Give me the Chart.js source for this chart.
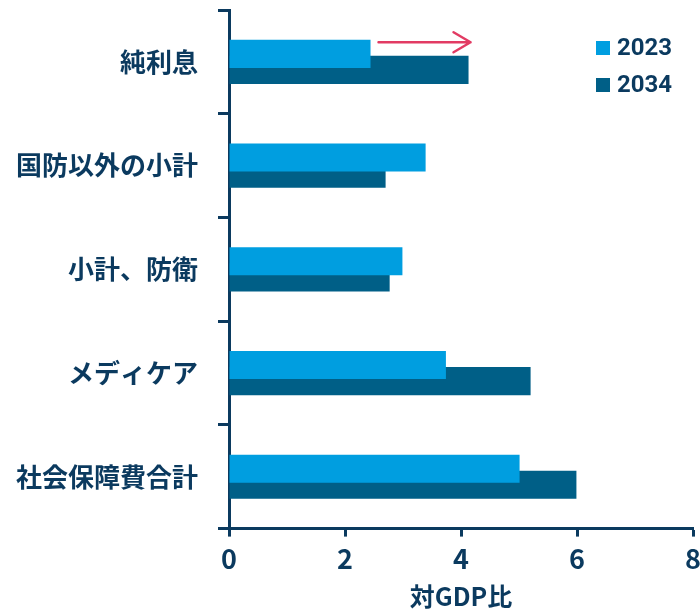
<!DOCTYPE html>
<html lang="ja">
<head>
<meta charset="utf-8">
<title>対GDP比</title>
<script src="https://cdn.jsdelivr.net/npm/chart.js@4.4.1/dist/chart.umd.min.js"></script>
<style>
    html, body { margin: 0; padding: 0; background: #fff; overflow: hidden; }
    #wrap { position: relative; width: 700px; height: 613px; }
</style>
</head>
<body>
<div id="wrap"><canvas id="gdpChart"></canvas></div>
<script>
// Chart data
const categories = ['純利息', '国防以外の小計', '小計、防衛', 'メディケア', '社会保障費合計'];
const values2023 = [2.44, 3.39, 2.99, 3.74, 5.01];
const values2034 = [4.13, 2.70, 2.77, 5.20, 5.99];
const xTicks = [0, 2, 4, 6, 8];

const NAVY = '#0b3a5f';
const LIGHT = '#009ee0';
const DARK = '#005f87';
const ARROW = '#e23b63';
const CJK = '"Noto Sans CJK JP", "Noto Sans", sans-serif';

// Legend drawn inside the plot, top right
const cornerLegend = {
    id: 'cornerLegend',
    afterDraw(chart) {
        const ctx = chart.ctx;
        ctx.save();
        ctx.font = 'bold 24px Roboto, "Liberation Sans", sans-serif';
        ctx.textBaseline = 'middle';
        chart.data.datasets.forEach((ds, i) => {
            const y = 48 + i * 37;
            ctx.fillStyle = ds.backgroundColor;
            ctx.fillRect(596, y - 7, 14, 14);
            ctx.fillStyle = NAVY;
            ctx.fillText(ds.label, 617, y + 1);
        });
        ctx.restore();
    }
};

// Growth arrow above the first category, from the 2023 end to the 2034 end
const growthArrow = {
    id: 'growthArrow',
    afterDatasetsDraw(chart) {
        const x = chart.scales.x;
        const bar = chart.getDatasetMeta(0).data[0];
        if (!bar) return;
        const y = bar.y - bar.height / 2 + 2.5;
        const x0 = x.getPixelForValue(values2023[0]) + 8;
        const x1 = x.getPixelForValue(values2034[0]) + 2;
        const ctx = chart.ctx;
        ctx.save();
        ctx.strokeStyle = ARROW;
        ctx.lineWidth = 2.5;
        ctx.lineCap = 'round';
        ctx.lineJoin = 'round';
        ctx.beginPath();
        ctx.moveTo(x0, y);
        ctx.lineTo(x1, y);
        ctx.moveTo(x1 - 17, y - 10);
        ctx.lineTo(x1, y);
        ctx.lineTo(x1 - 17, y + 10);
        ctx.stroke();
        ctx.restore();
    }
};

new Chart(document.getElementById('gdpChart'), {
    type: 'bar',
    data: {
        labels: categories,
        datasets: [{
            label: '2023',
            data: values2023,
            backgroundColor: LIGHT,
            categoryPercentage: 0.31,
            barPercentage: 1.75
        }, {
            label: '2034',
            data: values2034,
            backgroundColor: DARK,
            categoryPercentage: 0.31,
            barPercentage: 1.75
        }]
    },
    options: {
        indexAxis: 'y',
        responsive: true,
        maintainAspectRatio: false,
        animation: false,
        layout: {
            padding: { top: 10, left: 14, right: 0, bottom: 2 }
        },
        plugins: {
            legend: { display: false },
            tooltip: { enabled: false }
        },
        scales: {
            x: {
                min: 0,
                max: 8,
                afterBuildTicks(axis) {
                    axis.ticks = xTicks.map(v => ({ value: v }));
                },
                afterFit(axis) {
                    axis.paddingLeft = 0;
                    axis.paddingRight = 7;
                },
                border: { color: NAVY, width: 3 },
                grid: {
                    drawOnChartArea: false,
                    tickLength: 8,
                    tickWidth: 3,
                    tickColor: NAVY
                },
                ticks: {
                    color: NAVY,
                    padding: 6,
                    font: { family: CJK, size: 27, weight: 'bold' }
                },
                title: {
                    display: true,
                    text: '対GDP比',
                    color: NAVY,
                    padding: { top: 0, bottom: 0 },
                    font: { family: CJK, size: 25, weight: 'bold' }
                }
            },
            y: {
                afterFit(axis) {
                    axis.width = 215;
                    axis.paddingTop = 0;
                    axis.paddingBottom = 0;
                },
                border: { color: NAVY, width: 3 },
                grid: {
                    drawOnChartArea: false,
                    tickLength: 11,
                    tickWidth: 3,
                    tickColor: NAVY
                },
                ticks: {
                    color: NAVY,
                    padding: 20,
                    font: { family: CJK, size: 26, weight: 'bold' }
                }
            }
        }
    },
    plugins: [cornerLegend, growthArrow]
});
</script>
</body>
</html>
